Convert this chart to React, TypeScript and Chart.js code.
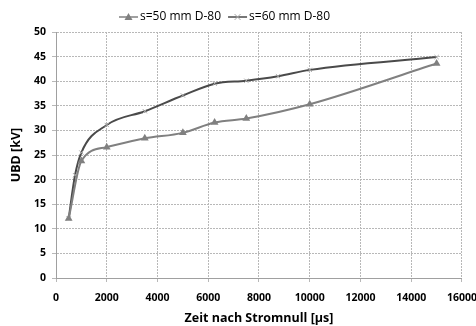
import React, { useEffect, useRef } from "react";
import { Chart, registerables } from "chart.js";

Chart.register(...registerables);

// Time after current zero [µs]
const times50 = [500, 1000, 2000, 3500, 5000, 6250, 7500, 10000, 15000];
// Breakdown voltage, s = 50 mm [kV]
const ubd50 = [12.1, 23.8, 26.6, 28.4, 29.5, 31.6, 32.4, 35.3, 43.6];

const times60 = [500, 750, 1000, 2000, 3500, 5000, 6250, 7500, 8750, 10000, 15000];
// Breakdown voltage, s = 60 mm [kV]
const ubd60 = [12.1, 20.9, 25.5, 31.1, 33.9, 37.1, 39.5, 40.1, 41.0, 42.3, 44.9];

const seriesNames = ["s=50 mm D-80", "s=60 mm D-80"];

const COLOR_50 = "#808080";
const COLOR_60 = "#4a4a4a";
const CROSS_60 = "#a6a6a6";
const GRID = "#b8b8b8";
const FONT = "'Open Sans', Lato, 'DejaVu Sans', sans-serif";

// Legend row above the plot: line sample with marker, then the series name
const legendRow = {
  id: "legendRow",
  afterDraw(chart: Chart) {
    const ctx = chart.ctx;
    const y = 17;
    const lineLen = 19;
    let x = 119;
    ctx.save();
    ctx.font = `12px ${FONT}`;
    ctx.textBaseline = "middle";
    ctx.textAlign = "left";
    chart.data.datasets.forEach((ds, i) => {
      const lineColor = i === 0 ? COLOR_50 : COLOR_60;
      ctx.strokeStyle = lineColor;
      ctx.lineWidth = 1.5;
      ctx.beginPath();
      ctx.moveTo(x, y);
      ctx.lineTo(x + lineLen, y);
      ctx.stroke();
      const cx = x + lineLen / 2;
      if (i === 0) {
        ctx.fillStyle = COLOR_50;
        ctx.beginPath();
        ctx.moveTo(cx, y - 4);
        ctx.lineTo(cx + 4, y + 3);
        ctx.lineTo(cx - 4, y + 3);
        ctx.closePath();
        ctx.fill();
      } else {
        ctx.strokeStyle = CROSS_60;
        ctx.lineWidth = 1;
        ctx.beginPath();
        ctx.moveTo(cx - 3, y - 3);
        ctx.lineTo(cx + 3, y + 3);
        ctx.moveTo(cx + 3, y - 3);
        ctx.lineTo(cx - 3, y + 3);
        ctx.stroke();
      }
      const label = ds.label as string;
      ctx.fillStyle = "#000";
      ctx.fillText(label, x + lineLen + 2, y);
      x += lineLen + 2 + ctx.measureText(label).width + 7;
    });
    ctx.restore();
  },
};

export default function App() {
  const ref = useRef<HTMLCanvasElement | null>(null);

  useEffect(() => {
    document.body.style.margin = "0";
    const chart = new Chart(ref.current!, {
      type: "line",
      data: {
        datasets: [
          {
            label: seriesNames[0],
            data: times50.map((t, i) => ({ x: t, y: ubd50[i] })),
            borderColor: COLOR_50,
            backgroundColor: COLOR_50,
            borderWidth: 2,
            pointStyle: "triangle",
            pointRadius: 4.5,
            pointBorderWidth: 0,
            pointBackgroundColor: COLOR_50,
            cubicInterpolationMode: "monotone",
          },
          {
            label: seriesNames[1],
            data: times60.map((t, i) => ({ x: t, y: ubd60[i] })),
            borderColor: COLOR_60,
            backgroundColor: COLOR_60,
            borderWidth: 2,
            pointStyle: "crossRot",
            pointRadius: 3,
            pointBorderWidth: 1,
            pointBorderColor: CROSS_60,
            cubicInterpolationMode: "monotone",
          },
        ],
      },
      plugins: [legendRow],
      options: {
        animation: false,
        responsive: false,
        layout: { padding: { left: 0, right: 24, top: 32, bottom: 0 } },
        plugins: {
          tooltip: { enabled: false },
          legend: { display: false },
        },
        scales: {
          x: {
            type: "linear",
            min: 0,
            max: 16000,
            ticks: {
              stepSize: 2000,
              padding: 10,
              color: "#000",
              font: { family: FONT, size: 10.5, weight: "bold" },
              callback: (v) => String(v),
            },
            grid: { color: GRID, tickLength: 4 },
            border: { display: true, color: "#a0a0a0", dash: [2, 1] },
            title: {
              display: true,
              text: "Zeit nach Stromnull [µs]",
              color: "#000",
              font: { family: FONT, size: 12.5, weight: "bold" },
              padding: { top: 2, bottom: 0 },
            },
            afterFit: (s) => {
              s.height = 48;
            },
          },
          y: {
            min: 0,
            max: 50,
            ticks: {
              stepSize: 5,
              padding: 6,
              color: "#000",
              font: { family: FONT, size: 10.5, weight: "bold" },
            },
            grid: { color: GRID, tickLength: 4 },
            border: { display: true, color: "#a0a0a0", dash: [2, 1] },
            title: {
              display: true,
              text: "UBD [kV]",
              color: "#000",
              font: { family: FONT, size: 12.5, weight: "bold" },
              padding: { top: 9, bottom: 4 },
            },
            afterFit: (s) => {
              s.width = 56;
            },
          },
        },
      },
    });
    return () => chart.destroy();
  }, []);

  return (
    <div style={{ position: "fixed", left: 0, top: 0, width: 476, height: 326, overflow: "hidden", background: "#fff" }}>
      <canvas ref={ref} width={487} height={326} style={{ width: 487, height: 326 }} />
    </div>
  );
}
